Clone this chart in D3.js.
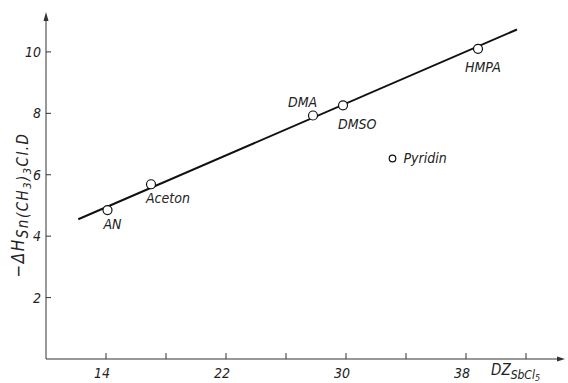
<!DOCTYPE html>
<html>
<head>
<meta charset="utf-8">
<script src="https://cdn.jsdelivr.net/npm/d3@7"></script>
<style>
  html, body { margin: 0; padding: 0; background: #fff; }
  svg text { font-family: "DejaVu Sans Condensed", "Liberation Sans Narrow", "DejaVu Sans", sans-serif; font-style: italic; fill: #222; }
</style>
</head>
<body>
<svg id="chart" width="568" height="383"></svg>
<script>
// Donor solvents: donor number DZ(SbCl5) vs. enthalpy of adduct formation
const solvents   = ["AN", "Aceton", "DMA", "DMSO", "Pyridin", "HMPA"];
const donorNum   = [14.1, 17.0, 27.8, 29.8, 33.1, 38.8];
const enthalpy   = [4.85, 5.69, 7.93, 8.26, 6.53, 10.1];
const onLine     = [true, true, true, true, false, true];

// Regression line end points
const fitX = [12.15, 41.4];
const fitY = [4.55, 10.73];

const xTicks = [14, 18, 22, 26, 30, 34, 38, 42];
const xTickLabels = ["14", "", "22", "", "30", "", "38", ""];
const yTicks = [2, 4, 6, 8, 10];

const svg = d3.select("#chart");
const x = d3.scaleLinear().domain([10, 44.6]).range([46, 565]);
const y = d3.scaleLinear().domain([0, 11.3]).range([359, 12]);

const axisColor = "#333";

// x axis with arrow
svg.append("line")
  .attr("x1", x(10)).attr("x2", x(44.6) - 4)
  .attr("y1", y(0)).attr("y2", y(0))
  .attr("stroke", axisColor).attr("stroke-width", 1);
svg.append("path")
  .attr("d", `M${x(44.6)},${y(0)} l-8,-2.5 l0,5 z`)
  .attr("fill", axisColor);

// y axis with arrow
svg.append("line")
  .attr("x1", x(10)).attr("x2", x(10))
  .attr("y1", y(0)).attr("y2", y(11.3) + 5)
  .attr("stroke", axisColor).attr("stroke-width", 1);
svg.append("path")
  .attr("d", `M${x(10)},${y(11.3)} l-2.5,9 l5,0 z`)
  .attr("fill", axisColor);

// x ticks (pointing up) and labels
const xg = svg.append("g");
xg.selectAll("line").data(xTicks).join("line")
  .attr("x1", d => x(d)).attr("x2", d => x(d))
  .attr("y1", y(0)).attr("y2", y(0) - 6)
  .attr("stroke", axisColor).attr("stroke-width", 1);
xg.selectAll("text").data(xTicks).join("text")
  .attr("x", d => x(d) - 4).attr("y", 378)
  .attr("text-anchor", "middle")
  .attr("font-size", 14)
  .text((d, i) => xTickLabels[i]);

// x axis title: DZ with subscript SbCl5
const xt = svg.append("text").attr("x", 491).attr("y", 375).attr("font-size", 15);
xt.append("tspan").text("DZ");
xt.append("tspan").attr("dy", 4).attr("font-size", 12).text("SbCl");
xt.append("tspan").attr("dy", 2).attr("font-size", 9).text("5");

// y ticks (pointing right) and labels
const yg = svg.append("g");
yg.selectAll("line").data(yTicks).join("line")
  .attr("x1", x(10)).attr("x2", x(10) + 5)
  .attr("y1", d => y(d)).attr("y2", d => y(d))
  .attr("stroke", axisColor).attr("stroke-width", 1);
yg.selectAll("text").data(yTicks).join("text")
  .attr("x", 41).attr("y", d => y(d) + 5)
  .attr("text-anchor", "end")
  .attr("font-size", 14)
  .text(d => d);

// y axis title
const yt = svg.append("text")
  .attr("transform", "translate(24,205) rotate(-90)")
  .attr("text-anchor", "middle")
  .attr("letter-spacing", 1.5)
  .attr("font-size", 17);
yt.append("tspan").text("−ΔH");
yt.append("tspan").attr("dy", 4).attr("font-size", 15).text("Sn(CH");
yt.append("tspan").attr("dy", 3).attr("font-size", 11).text("3");
yt.append("tspan").attr("dy", -3).attr("font-size", 15).text(")");
yt.append("tspan").attr("dy", 3).attr("font-size", 11).text("3");
yt.append("tspan").attr("dy", -3).attr("font-size", 15).text("Cl.D");

// regression line
svg.append("path")
  .datum(fitX.map((d, i) => [d, fitY[i]]))
  .attr("d", d3.line().x(d => x(d[0])).y(d => y(d[1])))
  .attr("stroke", "#111").attr("stroke-width", 2).attr("fill", "none");

// data points
const pts = solvents.map((s, i) => ({ name: s, dz: donorNum[i], h: enthalpy[i], fit: onLine[i] }));
svg.selectAll("circle.pt").data(pts).join("circle")
  .attr("class", "pt")
  .attr("cx", d => x(d.dz)).attr("cy", d => y(d.h))
  .attr("r", d => d.fit ? 4.5 : 3.3)
  .attr("fill", "#fff").attr("stroke", "#111").attr("stroke-width", 1.2);

// point labels
const labelOffset = {
  "AN":      [-4, 19, "start"],
  "Aceton":  [-5, 19, "start"],
  "DMA":     [-25, -8, "start"],
  "DMSO":    [-5, 24, "start"],
  "Pyridin": [11, 5, "start"],
  "HMPA":    [-13, 23, "start"]
};
svg.selectAll("text.lbl").data(pts).join("text")
  .attr("class", "lbl")
  .attr("x", d => x(d.dz) + labelOffset[d.name][0])
  .attr("y", d => y(d.h) + labelOffset[d.name][1])
  .attr("text-anchor", d => labelOffset[d.name][2])
  .attr("font-size", 14)
  .text(d => d.name);
</script>
</body>
</html>
